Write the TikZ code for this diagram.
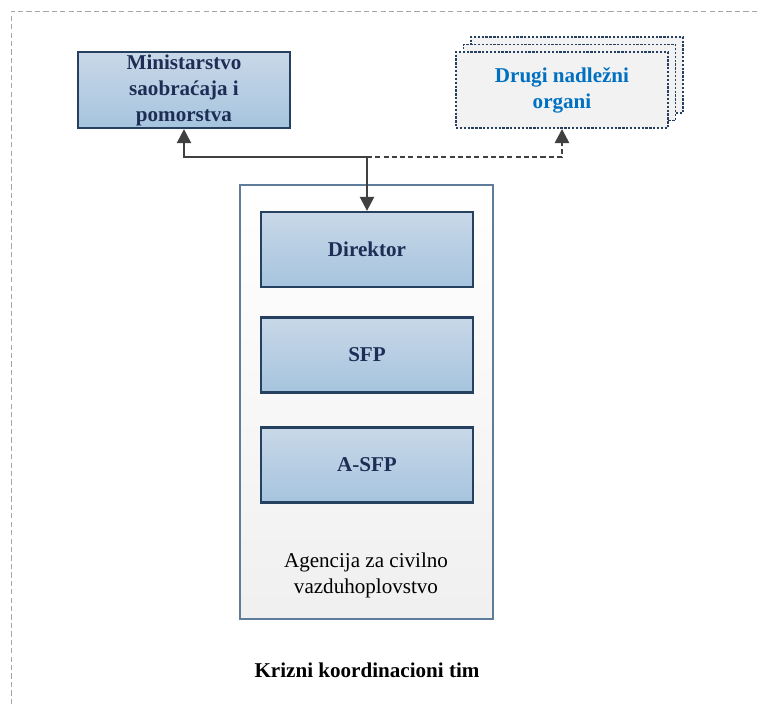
\documentclass[tikz,border=0pt]{standalone}
\usepackage{fontspec}
\setmainfont{Liberation Serif}
\usepackage{tikz}
\usetikzlibrary{arrows.meta}

\definecolor{boxtop}{RGB}{200,216,232}
\definecolor{boxbot}{RGB}{166,196,222}
\definecolor{boxline}{RGB}{38,64,96}
\definecolor{boxtext}{RGB}{30,45,85}
\definecolor{orgtext}{RGB}{0,112,192}
\definecolor{linkgray}{RGB}{64,64,64}
\definecolor{agline}{RGB}{95,125,155}

\tikzset{
  rolebox/.style={draw=boxline, line width=1.3pt, top color=boxtop, bottom color=boxbot,
    minimum width=4.24cm, minimum height=1.5cm, inner sep=0pt, align=center,
    text=boxtext, font=\fontsize{12}{14.8}\selectfont\bfseries},
  stackbox/.style={draw=boxline, line width=1.1pt, dash pattern=on 1.3pt off 0.9pt,
    fill=gray!10, minimum width=4.24cm, minimum height=1.52cm, inner sep=0pt, align=center,
    text=orgtext, font=\fontsize{12}{14.8}\selectfont\bfseries},
  link/.style={draw=linkgray, line width=1.4pt, -{Triangle[width=8pt,length=8pt]}}
}

\begin{document}
\begin{tikzpicture}[x=0.02cm, y=-0.02cm]
    \useasboundingbox (0,0) rectangle (757,704);
    \draw[gray!70, line width=0.5pt, dash pattern=on 3pt off 1.8pt] (11,704) -- (11,11) -- (757,11);

    % agencija
    \node[draw=agline, line width=0.8pt, top color=white, bottom color=gray!12,
        minimum width=5.06cm, minimum height=8.68cm, inner sep=0pt] (agencija) at (366.5,402) {};
    \node[rolebox] (direktor) at (367,249.5) {Direktor};
    \node[rolebox] (sfp) at (367,355) {SFP};
    \node[rolebox] (asfp) at (367,465) {A-SFP};
    \node[align=center, font=\fontsize{12}{14.8}\selectfont] (agtext) at (366,575)
        {Agencija za civilno\\vazduhoplovstvo};

    % top boxes
    \node[rolebox, minimum height=1.52cm] (ministarstvo) at (184,90)
        {Ministarstvo\\saobraćaja i\\pomorstva};
    \node[stackbox] (drugiC) at (577,75) {};
    \node[stackbox] (drugiB) at (569.5,82.5) {};
    \node[stackbox] (drugi) at (562,90) {Drugi nadležni\\organi};

    \coordinate (j) at (direktor.north |- 0,157);
    \draw[link] (j) -- (direktor.north);
    \draw[link] (j) -| (ministarstvo.south);
    \draw[link, dash pattern=on 2.9pt off 1.8pt] (j) -| (drugi.south);

    \node[font=\fontsize{12}{14.8}\selectfont\bfseries] (tim) at (367,670) {Krizni koordinacioni tim};
\end{tikzpicture}
\end{document}
